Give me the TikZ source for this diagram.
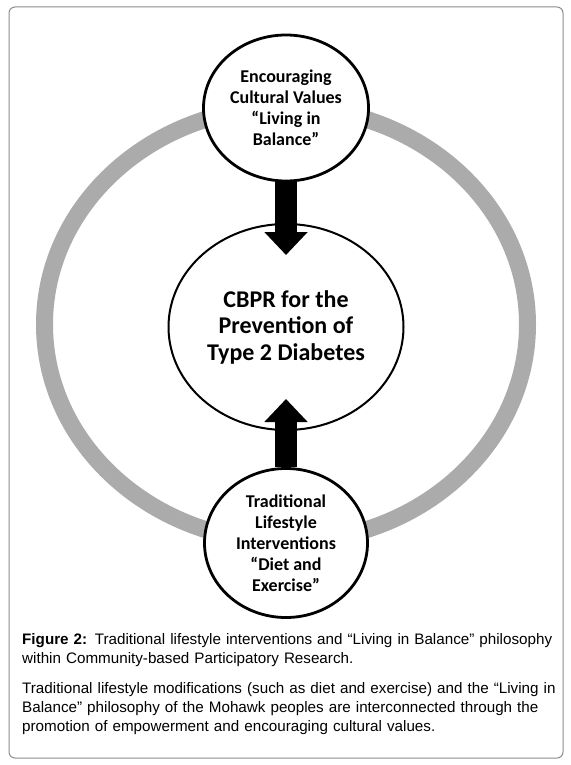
\documentclass[tikz,border=0pt]{standalone}
\usepackage{fontspec}
\setmainfont{Liberation Sans}
\newfontfamily\calibri{Carlito}
\usetikzlibrary{shapes.geometric,arrows.meta,positioning}
\definecolor{ringgray}{RGB}{171,171,171}
\begin{document}
\begin{tikzpicture}[x=1pt, y=-1pt, line join=round,
    topic/.style={ellipse, draw=black, line width=2.8pt, fill=white, inner sep=0pt, align=center,
      font=\calibri\bfseries\fontsize{18}{21}\selectfont},
    core/.style={ellipse, draw=black, line width=2pt, fill=white, inner sep=0pt, align=center,
      minimum width=235pt, minimum height=206pt, font=\calibri\bfseries\fontsize{24}{26.5}\selectfont},
    bigarrow/.style={line width=22pt, -{Triangle[width=42pt, length=23pt]}},
    caption/.style={anchor=base west, inner sep=0pt, text width=531pt, align=left,
      font=\fontsize{15.2}{19}\selectfont}]
  \useasboundingbox (0,0) rectangle (570,765);
  \draw[black!45, line width=1pt, rounded corners=6pt] (9,7) rectangle (563,758);
  \draw[ringgray, line width=17pt] (286,324.5) ellipse [x radius=241.5pt, y radius=217.5pt];

  \node[core] (cbpr) at (286,327) {CBPR for the\\Prevention of\\Type 2 Diabetes};
  \node[topic, minimum width=165pt, minimum height=146pt] (values) at (286,108)
    {Encouraging\\Cultural Values\\“Living in\\Balance”};
  \node[topic, minimum width=163pt, minimum height=149pt] (lifestyle) at (286,543)
    {Traditional\\Lifestyle\\Interventions\\“Diet and\\Exercise”};

  \draw[bigarrow] (values.south) -- ([yshift=-32pt]cbpr.north);
  \draw[bigarrow] (lifestyle.north) -- ([yshift=32pt]cbpr.south);

  \node[caption] (figcap) at (22,644)
    {\makebox[\linewidth][s]{\textbf{Figure 2:} Traditional lifestyle interventions and “Living in Balance” philosophy}\\
     within Community-based Participatory Research.};
  \node[caption] (note) at (22,693)
    {\makebox[\linewidth][s]{Traditional lifestyle modifications (such as diet and exercise) and the “Living in}\\
     \makebox[\linewidth][s]{Balance” philosophy of the Mohawk peoples are interconnected through the}\\
     promotion of empowerment and encouraging cultural values.};
\end{tikzpicture}
\end{document}
